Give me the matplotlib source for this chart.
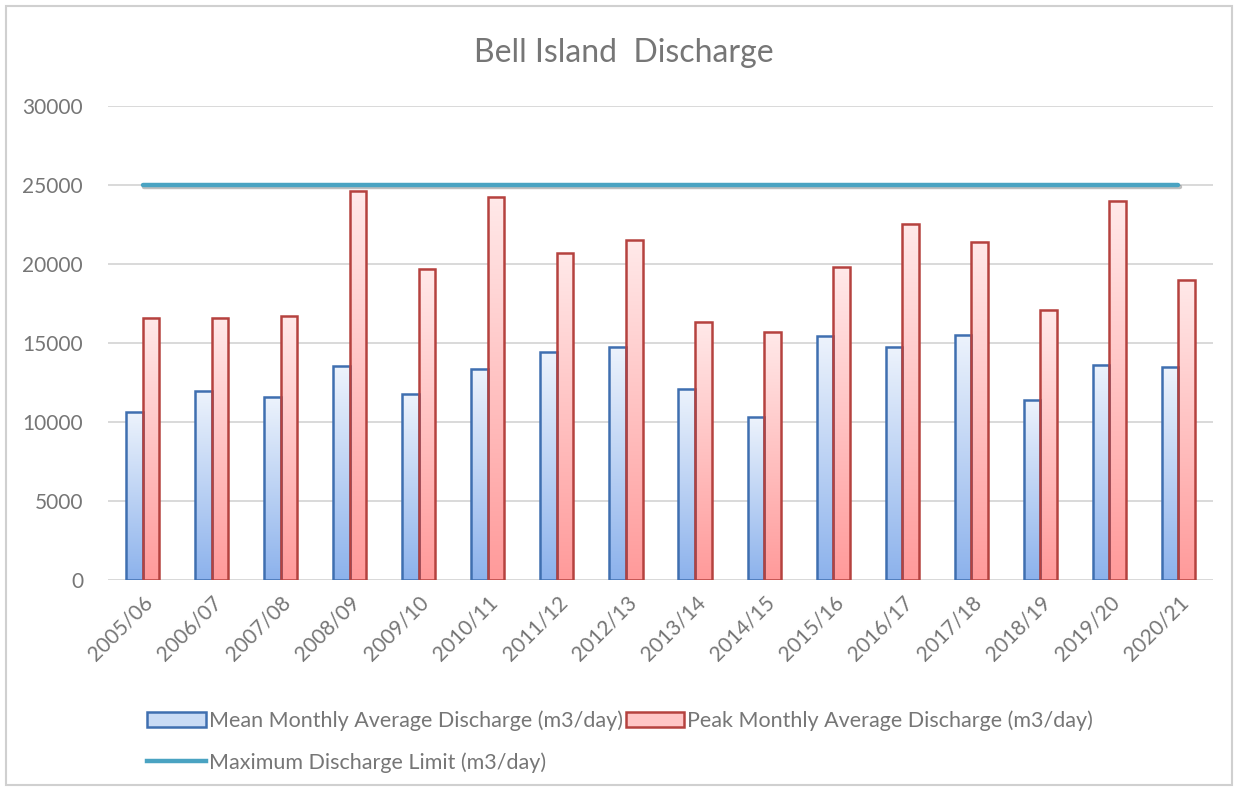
import numpy as np
import matplotlib.pyplot as plt
import matplotlib.patheffects as pe
from matplotlib.colors import LinearSegmentedColormap
from matplotlib.patches import Patch, Rectangle
from matplotlib.lines import Line2D

plt.rcParams['font.family'] = ['Lato', 'DejaVu Sans']

# Data
years = ['2005/06', '2006/07', '2007/08', '2008/09', '2009/10', '2010/11',
         '2011/12', '2012/13', '2013/14', '2014/15', '2015/16', '2016/17',
         '2017/18', '2018/19', '2019/20', '2020/21']
mean_discharge = [10610, 11940, 11600, 13540, 11770, 13380, 14430, 14750,
                  12090, 10300, 15420, 14770, 15510, 11370, 13630, 13460]
peak_discharge = [16600, 16600, 16700, 24640, 19700, 24260, 20680, 21500,
                  16350, 15700, 19790, 22550, 21410, 17110, 23990, 18990]
discharge_limit = 25000

text_grey = '#767676'
blue_edge, red_edge = '#3f6fb0', '#b5423f'
blue_cmap = LinearSegmentedColormap.from_list('b', ['#edf3fc', '#8cb2ec'])
red_cmap = LinearSegmentedColormap.from_list('r', ['#ffe9e9', '#ff9a9a'])

fig = plt.figure(figsize=(12.4, 7.91), dpi=100)
fig.patches.append(Rectangle((6 / 1240, 6 / 791), 1226 / 1240, 779 / 791,
                             transform=fig.transFigure, fill=False,
                             edgecolor='#d0d0d0', lw=1.5))
ax = fig.add_axes([108 / 1240, 1 - 580 / 791, 1105 / 1240, 474 / 791])

x = np.arange(len(years))
w = 0.24
grad = np.linspace(1, 0, 256).reshape(-1, 1)


def gradient_bars(xpos, values, cmap, edge):
    bars = ax.bar(xpos, values, w, facecolor='none', edgecolor=edge,
                  lw=1.8, zorder=3)
    for b in bars:
        x0, y0 = b.get_x(), b.get_y()
        ax.imshow(grad, extent=[x0, x0 + b.get_width(), y0, y0 + b.get_height()],
                  origin='lower', aspect='auto', cmap=cmap, zorder=2,
                  interpolation='bilinear')
    return bars


gradient_bars(x - w / 2, mean_discharge, blue_cmap, blue_edge)
gradient_bars(x + w / 2, peak_discharge, red_cmap, red_edge)

ax.plot([x[0], x[-1]], [discharge_limit] * 2, color='#4aa3c2', lw=3.2,
        solid_capstyle='round', zorder=4,
        path_effects=[pe.SimpleLineShadow(offset=(1, -1.5), alpha=0.25),
                      pe.Normal()])

ax.set_xlim(-0.5, len(years) - 0.5)
ax.set_ylim(0, 30000)
ax.set_yticks(range(0, 30001, 5000))
ax.grid(axis='y', color='#d9d9d9', lw=1.4, zorder=0)
ax.set_axisbelow(True)
for s in ax.spines.values():
    s.set_visible(False)
ax.axhline(0, color='#d9d9d9', lw=1.4, zorder=1)
ax.tick_params(length=0, labelsize=15, labelcolor=text_grey, pad=18)
ax.tick_params(axis='x', pad=9)
ax.set_xticks(x)
ax.set_xticklabels(years, rotation=45, ha='right', rotation_mode='anchor')

fig.text(0.503, 1 - 53 / 791, 'Bell Island  Discharge', ha='center',
         va='center', fontsize=23, color=text_grey)

handles = [Patch(facecolor='#c9dbf5', edgecolor=blue_edge, lw=1.8),
           Line2D([], [], color='#4aa3c2', lw=3.2),
           Patch(facecolor='#ffc6c6', edgecolor=red_edge, lw=1.8)]
labels = ['Mean Monthly Average Discharge (m3/day)',
          'Maximum Discharge Limit (m3/day)',
          'Peak Monthly Average Discharge (m3/day)']
fig.legend(handles, labels, loc='upper left',
           bbox_to_anchor=(128 / 1240, 1 - 691 / 791), ncol=2, frameon=False,
           fontsize=15.5, labelcolor=text_grey, handlelength=2.7,
           handleheight=0.75, handletextpad=0.15, columnspacing=0.15,
           labelspacing=1.0)

fig.savefig('out.png', dpi=100)
